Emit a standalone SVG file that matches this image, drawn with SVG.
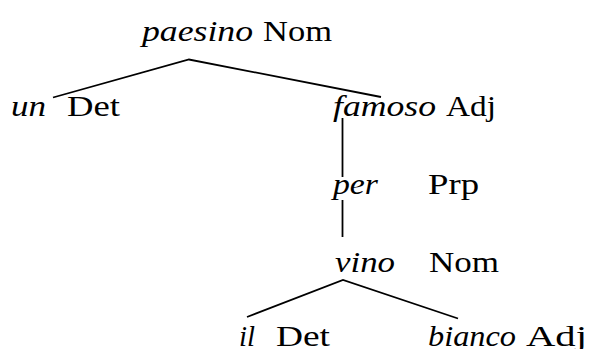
<svg xmlns="http://www.w3.org/2000/svg" width="592" height="349" viewBox="0 0 592 349">
  <style>
    text { font-family: "Liberation Serif", "DejaVu Serif", serif; font-size: 29px; fill: #000; }
    .w { font-style: italic; }
    .edge { stroke: #000; stroke-width: 1.8; fill: none; }
  </style>
  <rect width="592" height="349" fill="#fff"/>
  <g id="connectors">
    <polyline class="edge" points="53,97.5 189,59.5 381,97"/>
    <line class="edge" x1="342.5" y1="118" x2="342.5" y2="177"/>
    <line class="edge" x1="342.5" y1="200" x2="342.5" y2="237"/>
    <polyline class="edge" points="247,317 343,280 458,318.5"/>
  </g>
  <g id="paesino">
    <text class="w" x="142" y="41" textLength="111" lengthAdjust="spacingAndGlyphs">paesino</text>
    <text x="263" y="41" textLength="69" lengthAdjust="spacingAndGlyphs">Nom</text>
  </g>
  <g id="un">
    <text class="w" x="11" y="116" textLength="35" lengthAdjust="spacingAndGlyphs">un</text>
    <text x="67" y="116" textLength="53" lengthAdjust="spacingAndGlyphs">Det</text>
  </g>
  <g id="famoso">
    <text class="w" x="333" y="116" textLength="103" lengthAdjust="spacingAndGlyphs">famoso</text>
    <text x="446" y="116" textLength="50" lengthAdjust="spacingAndGlyphs">Adj</text>
  </g>
  <g id="per">
    <text class="w" x="333" y="194" textLength="45" lengthAdjust="spacingAndGlyphs">per</text>
    <text x="428" y="194" textLength="51" lengthAdjust="spacingAndGlyphs">Prp</text>
  </g>
  <g id="vino">
    <text class="w" x="335" y="272" textLength="60" lengthAdjust="spacingAndGlyphs">vino</text>
    <text x="429" y="272" textLength="70" lengthAdjust="spacingAndGlyphs">Nom</text>
  </g>
  <g id="il">
    <text class="w" x="239" y="346" textLength="16" lengthAdjust="spacingAndGlyphs">il</text>
    <text x="276" y="346" textLength="54" lengthAdjust="spacingAndGlyphs">Det</text>
  </g>
  <g id="bianco">
    <text class="w" x="428" y="346" textLength="88" lengthAdjust="spacingAndGlyphs">bianco</text>
    <text x="526" y="346" textLength="61" lengthAdjust="spacingAndGlyphs">Adj</text>
  </g>
</svg>
